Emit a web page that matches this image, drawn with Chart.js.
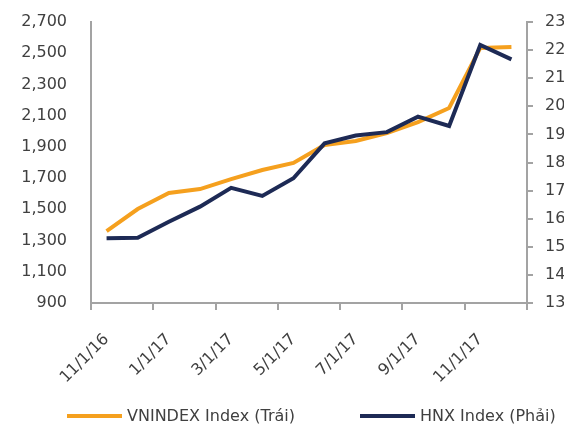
<!DOCTYPE html>
<html>
<head>
<meta charset="utf-8">
<script src="https://cdn.jsdelivr.net/npm/chart.js@4"></script>
<style>
html, body { margin: 0; padding: 0; background: #fff; }
#wrap { position: relative; width: 564px; height: 428px; overflow: hidden; }
#legend { position: absolute; left: 67px; top: 406px; display: flex; font: 16px 'DejaVu Sans', sans-serif; color: #404040; }
#legend .item { display: flex; align-items: center; width: 293px; white-space: nowrap; }
#legend .item:last-child { width: auto; }
#legend .swatch { display: inline-block; width: 55px; height: 4px; margin-right: 5px; }
</style>
</head>
<body>
<div id="wrap">
  <canvas id="myChart" width="564" height="428"></canvas>
  <div id="legend"></div>
</div>
<script>
// monthly data, Nov 2016 - Dec 2017
var months = ['11/1/16', '12/1/16', '1/1/17', '2/1/17', '3/1/17', '4/1/17', '5/1/17',
              '6/1/17', '7/1/17', '8/1/17', '9/1/17', '10/1/17', '11/1/17', '12/1/17'];
var vnindex = [1361, 1502, 1605, 1630, 1694, 1752, 1797, 1912, 1938, 1989, 2059, 2149, 2534, 2540];
var hnx = [153.0, 153.2, 158.9, 164.3, 171.0, 168.1, 174.4, 186.8, 189.6, 190.8, 196.3, 193.0, 221.8, 216.7];
var seriesNames = ['VNINDEX Index (Trái)', 'HNX Index (Phải)'];

var orange = '#F5A01E';
var navy = '#1D2A55';
var axisGray = '#a3a3a3';
var textGray = '#404040';

Chart.defaults.font.family = "'DejaVu Sans', sans-serif";
Chart.defaults.font.size = 16;
Chart.defaults.color = textGray;

var ctx = document.getElementById('myChart').getContext('2d');
var myChart = new Chart(ctx, {
    type: 'line',
    data: {
        labels: months,
        datasets: [
            {
                label: seriesNames[0],
                data: vnindex,
                yAxisID: 'y',
                borderColor: orange,
                backgroundColor: orange,
                borderWidth: 4,
                pointRadius: 0,
                borderJoinStyle: 'miter',
                fill: false,
                order: 1
            },
            {
                label: seriesNames[1],
                data: hnx,
                yAxisID: 'y1',
                borderColor: navy,
                backgroundColor: navy,
                borderWidth: 4,
                pointRadius: 0,
                borderJoinStyle: 'miter',
                fill: false,
                order: 0
            }
        ]
    },
    options: {
        responsive: false,
        animation: false,
        layout: { padding: { left: 0, top: 22, right: 0, bottom: 35 } },
        plugins: {
            tooltip: { enabled: false },
            legend: { display: false }
        },
        scales: {
            x: {
                offset: true,
                grid: {
                    offset: true,
                    drawOnChartArea: false,
                    tickLength: 7,
                    lineWidth: 2,
                    color: function(c) {
                        return (c.index === undefined || c.index % 2 === 0) ? axisGray : 'rgba(0,0,0,0)';
                    }
                },
                border: { color: axisGray, width: 2 },
                ticks: {
                    autoSkip: false,
                    minRotation: 45,
                    maxRotation: 45,
                    padding: 20,
                    callback: function(val, i) { return i % 2 === 0 ? months[i] : ''; }
                },
                afterFit: function(scale) { scale.height = 90; }
            },
            y: {
                position: 'left',
                min: 900,
                max: 2700,
                ticks: {
                    stepSize: 200,
                    padding: 0,
                    callback: function(v) { return v.toLocaleString('en-US'); }
                },
                // invisible ticks keep the labels away from the axis line
                grid: { drawOnChartArea: false, tickLength: 24, color: 'rgba(0,0,0,0)' },
                border: { color: axisGray, width: 2 },
                afterFit: function(scale) { scale.width = 91; }
            },
            y1: {
                position: 'right',
                min: 130,
                max: 230,
                ticks: { stepSize: 10, padding: 12 },
                grid: { drawOnChartArea: false, tickLength: 6, lineWidth: 2, color: axisGray },
                border: { color: axisGray, width: 2 },
                afterFit: function(scale) { scale.width = 37; }
            }
        }
    }
});

// html legend built from the datasets
var legendBox = document.getElementById('legend');
myChart.data.datasets.forEach(function(ds) {
    var item = document.createElement('div');
    item.className = 'item';
    var sw = document.createElement('span');
    sw.className = 'swatch';
    sw.style.background = ds.borderColor;
    item.appendChild(sw);
    item.appendChild(document.createTextNode(ds.label));
    legendBox.appendChild(item);
});
</script>
</body>
</html>
